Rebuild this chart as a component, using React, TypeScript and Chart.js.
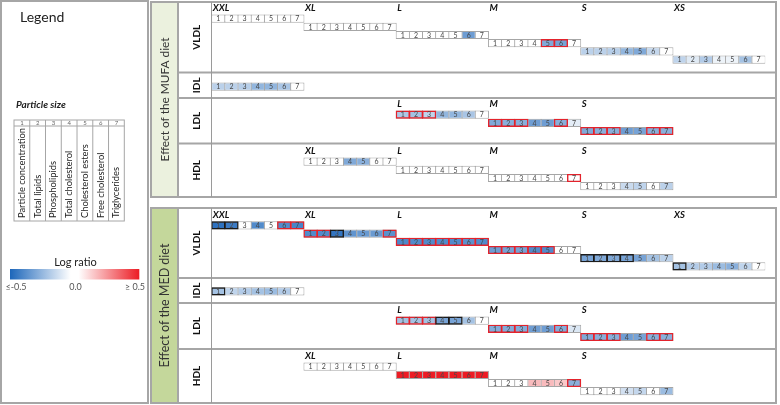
import React, { useEffect, useRef } from 'react';
import { Chart, registerables } from 'chart.js';

Chart.register(...registerables);

// ---------------- data ----------------
const sizeClasses = ['XXL', 'XL', 'L', 'M', 'S', 'XS'];
const variableNumbers = ['1', '2', '3', '4', '5', '6', '7'];
const variableNames = [
  'Particle concentration',
  'Total lipids',
  'Phospholipids',
  'Total cholesterol',
  'Cholesterol esters',
  'Free cholesterol',
  'Triglycerides',
];
const lipoproteinClasses = ['VLDL', 'IDL', 'LDL', 'HDL'];
const dietTitles = ['Effect of the MUFA diet', 'Effect of the MED diet'];
const colorbarTicks = ['≤-0.5', '0.0', '≥ 0.5'];

const vldlSizes = ['XXL', 'XL', 'L', 'M', 'S', 'XS'];
const idlSizes = ['XXL'];
const ldlSizes = ['L', 'M', 'S'];
const hdlSizes = ['XL', 'L', 'M', 'S'];

// log ratios (rows = size classes, columns = variables 1..7)
const mufaVLDL = [
  [0, 0, 0, 0, 0, 0, 0],
  [0, 0, 0, 0, 0, 0, 0],
  [0, 0, 0, 0, 0, -0.32, 0],
  [0, 0, 0, 0, -0.28, -0.3, 0],
  [-0.15, -0.15, -0.16, -0.24, -0.28, -0.13, 0],
  [-0.14, -0.07, -0.17, -0.04, -0.04, -0.2, 0],
];
const mufaIDL = [[-0.15, -0.15, -0.16, -0.24, -0.24, -0.19, 0]];
const mufaLDL = [
  [-0.18, -0.2, -0.14, -0.24, -0.24, -0.19, 0],
  [-0.28, -0.26, -0.26, -0.32, -0.32, -0.26, -0.06],
  [-0.28, -0.26, -0.26, -0.32, -0.3, -0.26, -0.26],
];
const mufaHDL = [
  [0, 0, 0, -0.28, -0.26, 0, 0],
  [0, 0, 0, 0, 0, 0, 0],
  [0, 0, 0, 0, 0, 0, 0],
  [0, 0, 0, -0.12, -0.14, 0, -0.15],
];

const medVLDL = [
  [-0.46, -0.43, 0, -0.38, 0, -0.38, -0.4],
  [-0.38, -0.38, -0.45, -0.35, -0.33, -0.33, -0.36],
  [-0.39, -0.38, -0.38, -0.38, -0.38, -0.36, -0.38],
  [-0.32, -0.3, -0.3, -0.38, -0.38, 0, 0],
  [-0.3, -0.28, -0.28, -0.3, -0.3, -0.2, -0.15],
  [-0.2, -0.17, -0.17, -0.22, -0.26, -0.14, 0],
];
const medIDL = [[-0.2, -0.14, -0.17, -0.2, -0.22, -0.17, 0]];
const medLDL = [
  [-0.2, -0.2, -0.2, -0.3, -0.3, -0.2, 0],
  [-0.27, -0.27, -0.27, -0.32, -0.32, -0.27, -0.08],
  [-0.28, -0.26, -0.26, -0.32, -0.3, -0.26, -0.26],
];
const medHDL = [
  [0, 0, 0, 0, 0, 0, 0],
  [0.5, 0.5, 0.5, 0.5, 0.5, 0.5, 0.5],
  [0, 0, 0, 0.15, 0.15, 0.12, -0.26],
  [0, 0, 0, -0.1, -0.13, 0, -0.22],
];

// significance marks: 0 none, 1 red frame, 2 black frame
const mufaVLDLSig = [
  [0, 0, 0, 0, 0, 0, 0],
  [0, 0, 0, 0, 0, 0, 0],
  [0, 0, 0, 0, 0, 0, 0],
  [0, 0, 0, 0, 1, 1, 0],
  [0, 0, 0, 0, 0, 0, 0],
  [0, 0, 0, 0, 0, 0, 0],
];
const mufaIDLSig = [[0, 0, 0, 0, 0, 0, 0]];
const mufaLDLSig = [
  [1, 1, 1, 0, 0, 0, 0],
  [1, 1, 1, 0, 0, 1, 0],
  [1, 1, 1, 0, 0, 1, 1],
];
const mufaHDLSig = [
  [0, 0, 0, 0, 0, 0, 0],
  [0, 0, 0, 0, 0, 0, 0],
  [0, 0, 0, 0, 0, 0, 1],
  [0, 0, 0, 0, 0, 0, 0],
];
const medVLDLSig = [
  [2, 2, 0, 0, 0, 1, 1],
  [1, 1, 2, 0, 0, 0, 1],
  [1, 1, 1, 1, 1, 1, 1],
  [1, 1, 1, 1, 1, 0, 0],
  [2, 2, 2, 2, 0, 0, 0],
  [2, 0, 0, 0, 0, 0, 0],
];
const medIDLSig = [[2, 0, 0, 0, 0, 0, 0]];
const medLDLSig = [
  [1, 1, 1, 2, 2, 0, 0],
  [1, 1, 1, 0, 0, 1, 0],
  [1, 1, 1, 0, 0, 1, 1],
];
const medHDLSig = [
  [0, 0, 0, 0, 0, 0, 0],
  [0, 0, 0, 0, 0, 0, 0],
  [0, 0, 0, 0, 0, 0, 1],
  [0, 0, 0, 0, 0, 0, 0],
];

// ---------------- layout & style ----------------
const W = 780;
const H = 405;
const X0 = 211.7;
const X1 = 765.2;
const ROW_H = 8.2;
const GRID = '#a6a6a6';
const FONT = 'Lato, "Open Sans", sans-serif';
const SIG_COLORS = ['rgba(0,0,0,0)', '#e3232c', '#1b1b1b'];

const panels = [
  { top: 2, bottom: 197, separators: [72.5, 98, 143.5], firstRows: [14.5, 82.5, 110.5, 157.5], green: '#ebf1de' },
  { top: 208, bottom: 403, separators: [278, 303, 349], firstRows: [221.3, 287.3, 316.5, 362.5], green: '#c4d79b' },
];

const sizesByClass = [vldlSizes, idlSizes, ldlSizes, hdlSizes];
const valuesByDiet = [
  [mufaVLDL, mufaIDL, mufaLDL, mufaHDL],
  [medVLDL, medIDL, medLDL, medHDL],
];
const sigByDiet = [
  [mufaVLDLSig, mufaIDLSig, mufaLDLSig, mufaHDLSig],
  [medVLDLSig, medIDLSig, medLDLSig, medHDLSig],
];

function colorFor(v: number): string {
  const t = Math.max(-1, Math.min(1, v / 0.5));
  const end = t < 0 ? [28, 102, 186] : [236, 28, 36];
  const a = Math.abs(t);
  const c = end.map((e) => Math.round(255 + (e - 255) * a));
  return `rgb(${c[0]},${c[1]},${c[2]})`;
}

const colLabels = sizeClasses.flatMap((s) => variableNumbers.map((n) => `${s}-${n}`));
const COL_W = (X1 - X0) / colLabels.length;
const BAR_P = (COL_W + 1) / COL_W;

function buildDatasets() {
  const datasets: any[] = [];
  dietTitles.forEach((_, d) => {
    lipoproteinClasses.forEach((_, l) => {
      const sizes = sizesByClass[l];
      const values = valuesByDiet[d][l];
      const sig = sigByDiet[d][l];
      const firstTop = panels[d].firstRows[l];
      sizes.forEach((size, r) => {
        const top = firstTop + r * ROW_H;
        const bottom = top + ROW_H;
        datasets.push({
          type: 'bar',
          isCell: true,
          order: 2,
          data: variableNumbers.map((n) => ({ x: `${size}-${n}`, y: [top, bottom] })),
          backgroundColor: values[r].map(colorFor),
          borderColor: GRID,
          borderWidth: 1,
          borderSkipped: false,
          inflateAmount: 0,
          barPercentage: BAR_P,
          categoryPercentage: 1,
          grouped: false,
        });
        const marked = sig[r].map((s, j) => (s ? j : -1)).filter((j) => j >= 0);
        if (marked.length) {
          datasets.push({
            type: 'bar',
            order: 1,
            data: marked.map((j) => ({ x: `${size}-${variableNumbers[j]}`, y: [top, bottom] })),
            backgroundColor: 'rgba(0,0,0,0)',
            borderColor: marked.map((j) => SIG_COLORS[sig[r][j]]),
            borderWidth: 1.4,
            borderSkipped: false,
            inflateAmount: 0,
            barPercentage: BAR_P,
            categoryPercentage: 1,
            grouped: false,
          });
        }
      });
    });
  });
  return datasets;
}

function line(ctx: CanvasRenderingContext2D, x1: number, y1: number, x2: number, y2: number) {
  ctx.beginPath();
  ctx.moveTo(x1, y1);
  ctx.lineTo(x2, y2);
  ctx.stroke();
}

function rotText(ctx: CanvasRenderingContext2D, text: string, x: number, y: number, align: CanvasTextAlign) {
  ctx.save();
  ctx.translate(x, y);
  ctx.rotate(-Math.PI / 2);
  ctx.textAlign = align;
  ctx.fillText(text, 0, 0);
  ctx.restore();
}

function fitFont(ctx: CanvasRenderingContext2D, text: string, style: string, maxSize: number, maxW: number) {
  ctx.font = `${style} ${maxSize}px ${FONT}`;
  const w = ctx.measureText(text).width;
  const size = w > maxW ? (maxSize * maxW) / w : maxSize;
  return `${style} ${size.toFixed(2)}px ${FONT}`;
}

const figurePlugin = {
  id: 'figure',
  beforeDraw(chart: any) {
    const ctx: CanvasRenderingContext2D = chart.ctx;
    ctx.save();
    ctx.fillStyle = '#ffffff';
    ctx.fillRect(0, 0, W, H);
    ctx.strokeStyle = GRID;
    ctx.lineWidth = 2;
    ctx.strokeRect(1, 1, 147, 402);
    panels.forEach((p) => {
      ctx.fillStyle = p.green;
      ctx.fillRect(151, p.top, 27, p.bottom - p.top);
      ctx.lineWidth = 2;
      ctx.strokeStyle = GRID;
      ctx.strokeRect(151, p.top, 625, p.bottom - p.top);
      line(ctx, 178, p.top, 178, p.bottom);
      p.separators.forEach((y) => line(ctx, 178, y, 776, y));
      ctx.lineWidth = 1;
      ctx.strokeStyle = '#9a9a9a';
      line(ctx, 211.5, p.top, 211.5, p.bottom);
    });
    ctx.restore();
  },
  afterDatasetsDraw(chart: any) {
    const ctx: CanvasRenderingContext2D = chart.ctx;
    ctx.save();
    ctx.font = `7px ${FONT}`;
    ctx.fillStyle = '#474747';
    ctx.textAlign = 'center';
    ctx.textBaseline = 'middle';
    chart.data.datasets.forEach((ds: any, i: number) => {
      if (!ds.isCell) return;
      const meta = chart.getDatasetMeta(i);
      meta.data.forEach((el: any, j: number) => {
        const { x, y, base } = el.getProps(['x', 'y', 'base'], true);
        ctx.fillText(variableNumbers[j], x, (y + base) / 2 + 0.5);
      });
    });
    ctx.restore();
  },
  afterDraw(chart: any) {
    const ctx: CanvasRenderingContext2D = chart.ctx;
    const xs = chart.scales.x;
    const ys = chart.scales.y;
    ctx.save();
    ctx.textBaseline = 'middle';

    // size-class labels and row labels
    panels.forEach((p, d) => {
      const bounds = [p.top, ...p.separators, p.bottom];
      lipoproteinClasses.forEach((lp, l) => {
        ctx.fillStyle = '#111';
        ctx.font = `bold 10px ${FONT}`;
        rotText(ctx, lp, 197, (bounds[l] + bounds[l + 1]) / 2, 'center');
        if (l === 1) return;
        ctx.font = `italic bold 9.5px ${FONT}`;
        ctx.textAlign = 'left';
        sizesByClass[l].forEach((size) => {
          const col = colLabels.indexOf(`${size}-1`);
          const x = xs.getPixelForValue(col) - COL_W / 2 + 1;
          const y = ys.getPixelForValue(p.firstRows[l] - 6.5);
          ctx.fillText(size, x, y);
        });
      });
      // diet title
      ctx.fillStyle = '#333';
      ctx.font = fitFont(ctx, dietTitles[d], '', 14.5, 124);
      rotText(ctx, dietTitles[d], 165, (p.top + p.bottom) / 2, 'center');
    });

    // legend panel
    ctx.fillStyle = '#222';
    ctx.textAlign = 'left';
    ctx.font = `14px ${FONT}`;
    ctx.fillText('Legend', 20, 17);
    ctx.font = `italic bold 10px ${FONT}`;
    ctx.fillText('Particle size', 16, 105);

    const tx0 = 14;
    const tx1 = 124.3;
    const ty0 = 120;
    const tyh = 126;
    const ty1 = 221;
    const cw = (tx1 - tx0) / 7;
    ctx.strokeStyle = GRID;
    ctx.lineWidth = 1;
    ctx.strokeRect(tx0, ty0, tx1 - tx0, ty1 - ty0);
    line(ctx, tx0, tyh, tx1, tyh);
    for (let k = 1; k < 7; k++) line(ctx, tx0 + k * cw, ty0, tx0 + k * cw, ty1);
    ctx.font = `6px ${FONT}`;
    ctx.fillStyle = '#666';
    ctx.textAlign = 'center';
    variableNumbers.forEach((n, k) => ctx.fillText(n, tx0 + (k + 0.5) * cw, (ty0 + tyh) / 2 + 0.5));
    ctx.fillStyle = '#222';
    ctx.font = fitFont(ctx, variableNames[0], '', 11, 90);
    variableNames.forEach((name, k) => rotText(ctx, name, tx0 + (k + 0.5) * cw, 218, 'left'));

    // colour bar
    ctx.font = `11px ${FONT}`;
    ctx.textAlign = 'center';
    ctx.fillText('Log ratio', 75.5, 262);
    const cb0 = 10;
    const cb1 = 139.3;
    const grad = ctx.createLinearGradient(cb0, 0, cb1, 0);
    grad.addColorStop(0, colorFor(-0.5));
    grad.addColorStop(0.47, '#ffffff');
    grad.addColorStop(0.53, '#ffffff');
    grad.addColorStop(1, colorFor(0.5));
    ctx.fillStyle = grad;
    ctx.fillRect(cb0, 269, cb1 - cb0, 10.5);
    ctx.fillStyle = '#555';
    ctx.font = `9px ${FONT}`;
    const tickX = [16, 75.5, 135];
    colorbarTicks.forEach((t, k) => ctx.fillText(t, tickX[k], 287.5));
    ctx.restore();
  },
};

export default function App() {
  const ref = useRef<HTMLCanvasElement | null>(null);
  useEffect(() => {
    if (!ref.current) return;
    const chart = new Chart(ref.current, {
      type: 'bar',
      data: { labels: colLabels, datasets: buildDatasets() },
      options: {
        responsive: false,
        maintainAspectRatio: false,
        animation: false,
        devicePixelRatio: 1,
        events: [],
        layout: { padding: { left: X0, right: W - X1, top: 0, bottom: 0 } },
        plugins: { legend: { display: false }, tooltip: { enabled: false } },
        scales: {
          x: { type: 'category', labels: colLabels, offset: true, display: false },
          y: { type: 'linear', min: 0, max: H, reverse: true, display: false },
        },
      } as any,
      plugins: [figurePlugin as any],
    });
    return () => chart.destroy();
  }, []);
  return (
    <div style={{ position: 'fixed', left: 0, top: 0, width: W, height: H, background: '#fff' }}>
      <canvas ref={ref} width={W} height={H} style={{ width: W, height: H, display: 'block' }} />
    </div>
  );
}
